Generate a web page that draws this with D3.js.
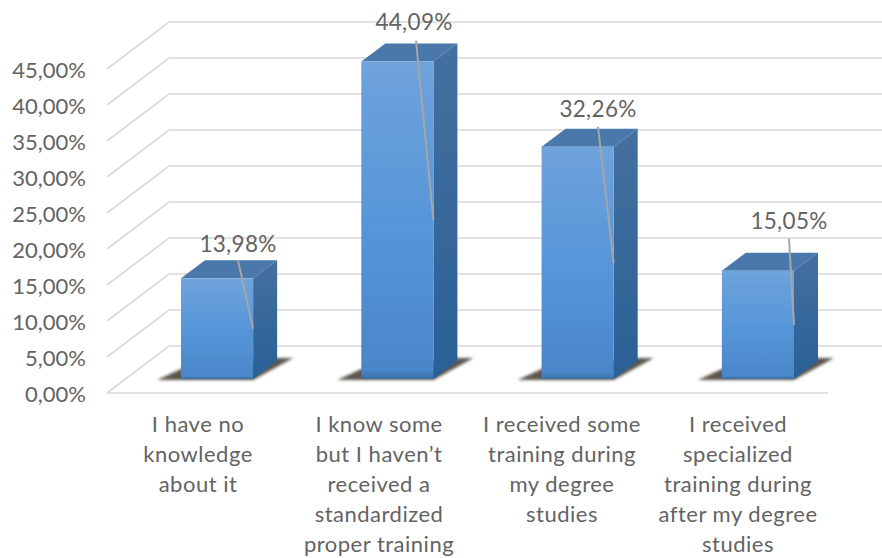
<!DOCTYPE html>
<html>
<head>
<meta charset="utf-8">
<script src="https://cdn.jsdelivr.net/npm/d3@7/dist/d3.min.js"></script>
<style>
html,body{margin:0;padding:0;background:#fff;overflow:hidden}
text{font-family:Lato,"Open Sans",sans-serif;fill:#636363}
</style>
</head>
<body>
<svg id="chart" width="882" height="558"></svg>
<script>
// Chart content
const categories = [
  ["I have no","knowledge","about it"],
  ["I know some","but I haven\u2019t","received a","standardized","proper training"],
  ["I received some","training during","my degree","studies"],
  ["I received","specialized","training during","after my degree","studies"]
];
const shares = [13.98, 44.09, 32.26, 15.05];
const shareLabels = ["13,98%","44,09%","32,26%","15,05%"];
const tickValues = [0,5,10,15,20,25,30,35,40,45];
const tickLabels = ["0,00%","5,00%","10,00%","15,00%","20,00%","25,00%","30,00%","35,00%","40,00%","45,00%"];

// Layout of the pseudo-3D box
const floorFront = 393, floorBack = 346;
const wallLeftFront = 107, wallLeftBack = 169, wallRight = 882, floorRight = 828;
const barBase = 379, depthX = 24, depthY = 18;
const plotHeight = 324;

// Label placement per bar
const labelLift = [34, 39, 38, 50];
const labelCentre = [238, 414, 598, 789];
const leaderTopX = [238, 416, 598, 789];
const leaderTopGap = [16, 18, 18, 18];
const categoryCentre = [198, 379, 562, 738];

const svg = d3.select("#chart");
const defs = svg.append("defs");

const frontGrad = defs.append("linearGradient").attr("id","front").attr("x1",0).attr("x2",0).attr("y1",0).attr("y2",1);
frontGrad.append("stop").attr("offset","0%").attr("stop-color","#6fa3dc");
frontGrad.append("stop").attr("offset","55%").attr("stop-color","#5495d8");
frontGrad.append("stop").attr("offset","97%").attr("stop-color","#4a86c8");
frontGrad.append("stop").attr("offset","100%").attr("stop-color","#3d6fa6");
const sideGrad = defs.append("linearGradient").attr("id","side").attr("x1",0).attr("x2",0).attr("y1",0).attr("y2",1);
sideGrad.append("stop").attr("offset","0%").attr("stop-color","#44709f");
sideGrad.append("stop").attr("offset","100%").attr("stop-color","#2a6096");
defs.append("filter").attr("id","soft").attr("x","-20%").attr("y","-60%").attr("width","140%").attr("height","220%")
  .append("feGaussianBlur").attr("stdDeviation",1.8);

// Scales: the wall and the bars use the same pixels per percentage point
const yBack = d3.scaleLinear().domain([0,45]).range([floorBack, floorBack - plotHeight]);
const yBar = d3.scaleLinear().domain([0,45]).range([barBase, barBase - plotHeight]);
const x = d3.scaleBand().domain(d3.range(categories.length)).range([181,794]).paddingInner(0.6).paddingOuter(0);

const line = d3.line();
const grid = svg.append("g").attr("fill","none").attr("stroke","#d9d9d9").attr("stroke-width",1.6);

tickValues.forEach(v => {
  const yb = yBack(v), yf = yb + (floorFront - floorBack);
  grid.append("path").attr("d", line([[wallLeftFront,yf],[wallLeftBack,yb],[wallRight,yb]]));
});
grid.append("path").attr("d", line([[wallLeftFront,floorFront],[floorRight,floorFront]]));

// Axis labels
svg.append("g").selectAll("text").data(tickValues).join("text")
  .attr("x",86).attr("y",d=>yBack(d)+(floorFront-floorBack)+1)
  .attr("dy","0.35em").attr("text-anchor","end").attr("font-size",22)
  .text((d,i)=>tickLabels[i]);

// Bars
const bars = svg.append("g").selectAll("g").data(shares).join("g");

bars.append("path")
  .attr("d",(d,i)=>{
    const l = x(i), r = l+x.bandwidth();
    return line([[l-24,barBase+1],[r,barBase+1],[r+40,barBase-21],[r+20,barBase-21],[l,barBase-10]])+"Z";
  })
  .attr("fill","#40372e").attr("opacity",0.85).attr("filter","url(#soft)");

bars.append("path")
  .attr("d",(d,i)=>{
    const l = x(i), r = l+x.bandwidth(), t = yBar(d);
    return line([[l,t],[l+depthX,t-depthY],[r+depthX,t-depthY],[r,t]])+"Z";
  })
  .attr("fill","#4a78ab");

bars.append("path")
  .attr("d",(d,i)=>{
    const r = x(i)+x.bandwidth(), t = yBar(d);
    return line([[r,t],[r+depthX,t-depthY],[r+depthX,barBase-depthY],[r,barBase]])+"Z";
  })
  .attr("fill","url(#side)");

bars.append("rect")
  .attr("x",(d,i)=>x(i)).attr("width",x.bandwidth())
  .attr("y",d=>yBar(d)).attr("height",d=>barBase-yBar(d))
  .attr("fill","url(#front)");

// Leaders run from each label to the middle of its bar's right edge
bars.append("path")
  .attr("d",(d,i)=>line([
    [leaderTopX[i], yBar(d)-labelLift[i]+leaderTopGap[i]],
    [x(i)+x.bandwidth(), yBar(d/2)]
  ]))
  .attr("fill","none").attr("stroke","#a6a6a6").attr("stroke-width",2);

bars.append("text")
  .attr("x",(d,i)=>labelCentre[i])
  .attr("y",(d,i)=>yBar(d)-labelLift[i])
  .attr("dy","0.35em").attr("text-anchor","middle").attr("font-size",22.5).attr("letter-spacing",0.3)
  .text((d,i)=>shareLabels[i]);

// Category labels
svg.append("g").selectAll("text").data(categories).join("text")
  .attr("text-anchor","middle").attr("font-size",22).attr("letter-spacing",0.5)
  .attr("transform",(d,i)=>`translate(${categoryCentre[i]},432)`)
  .selectAll("tspan").data(d=>d).join("tspan")
  .attr("x",0).attr("y",(d,i)=>i*30).text(d=>d);
</script>
</body>
</html>
